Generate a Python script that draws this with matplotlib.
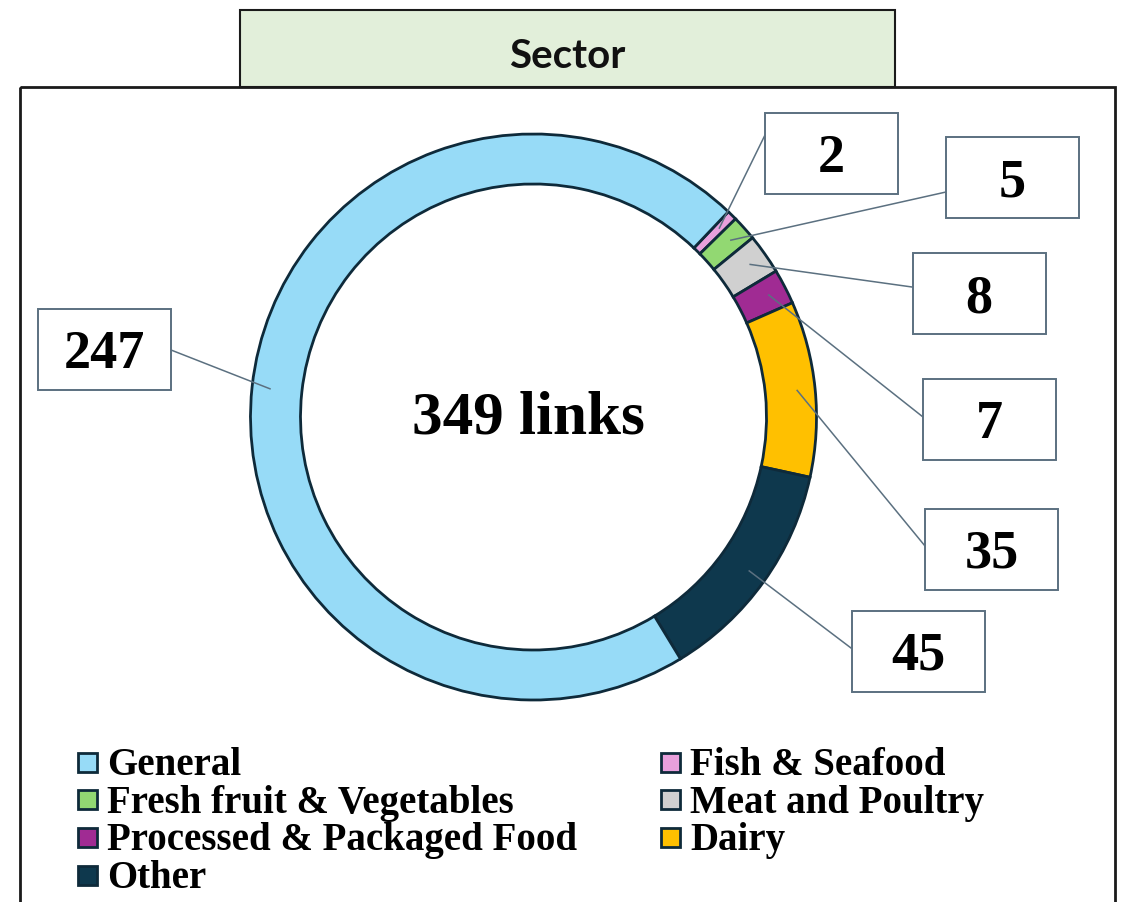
import matplotlib
matplotlib.use("Agg")
import matplotlib.pyplot as plt
from matplotlib.patches import Rectangle
import numpy as np

# ---- data ----
categories = ["Fish & Seafood", "Fresh fruit & Vegetables", "Meat and Poultry",
              "Processed & Packaged Food", "Dairy", "Other", "General"]
values = [2, 5, 8, 7, 35, 45, 247]
colors = ["#E8A0DC", "#92D872", "#D0D0D0", "#A02B93", "#FFC000", "#0E384D", "#97DBF7"]
legend_order = ["General", "Fish & Seafood", "Fresh fruit & Vegetables", "Meat and Poultry",
                "Processed & Packaged Food", "Dairy", "Other"]
title = "Sector"

# ---- layout (pixel coords, origin top-left) ----
W, H = 1125, 902
center = (533.5, 417)
R_OUT, RING_W = 283, 50
box_w, box_h = 133, 81
label_boxes = {  # box center, leader anchor on box
    "Fish & Seafood": ((831.5, 153), (765, 135)),
    "Fresh fruit & Vegetables": ((1012.5, 177.5), (946, 192)),
    "Meat and Poultry": ((979, 293.5), (912, 287)),
    "Processed & Packaged Food": ((989.5, 419.5), (923, 417)),
    "Dairy": ((991.5, 549), (925, 546)),
    "Other": ((918, 651), (851, 648)),
    "General": ((104.5, 349.5), (171, 350)),
}

serif = ["Liberation Serif", "DejaVu Serif"]
fig = plt.figure(figsize=(W / 100, H / 100), dpi=100)
ax = fig.add_axes([0, 0, 1, 1])

wedges, _ = ax.pie(values, colors=colors, startangle=-46.5, counterclock=True,
                   center=center, radius=R_OUT,
                   wedgeprops=dict(width=RING_W, edgecolor="#0E2A3A", linewidth=2))
ax.set_xlim(0, W)
ax.set_ylim(H, 0)
ax.set_aspect("equal")
ax.axis("off")

# outer frame and title box
ax.add_patch(Rectangle((20, 87), 1095, 900, fill=False, edgecolor="#1a1a1a", lw=2, zorder=1))
ax.add_patch(Rectangle((240, 10), 655, 77, facecolor="#E2EFDA", edgecolor="#1a1a1a", lw=1.5, zorder=2))
ax.text(567.5, 68, title, ha="center", va="baseline", fontsize=29, fontweight="bold",
        family=["Lato", "DejaVu Sans"], color="#111111", zorder=3)

# data labels with leader lines
r_lead = R_OUT - RING_W / 2 + 7
for w, cat, v in zip(wedges, categories, values):
    th = np.deg2rad((w.theta1 + w.theta2) / 2)
    px = center[0] + r_lead * np.cos(th)
    py = center[1] + r_lead * np.sin(th)
    (cx, cy), (ax0, ay0) = label_boxes[cat]
    ax.plot([ax0, px], [ay0, py], color="#5B7080", lw=1.1, zorder=4)
    ax.add_patch(Rectangle((cx - box_w / 2, cy - box_h / 2), box_w, box_h,
                           facecolor="white", edgecolor="#5B7080", lw=1.4, zorder=5))
    ax.text(cx, cy + 19, str(v), ha="center", va="baseline", fontsize=39,
            fontweight="bold", family=serif, zorder=6)

ax.text(528, 433, f"{sum(values)} links", ha="center", va="baseline", fontsize=44,
        fontweight="bold", family=serif, zorder=6)

# legend (row-major, 2 columns)
col_mark_x = [87, 670]
col_text_x = [107, 690]
row_base0, row_step = 775, 37.7
msz = 19
for i, name in enumerate(legend_order):
    r, c = divmod(i, 2)
    base = row_base0 + r * row_step
    col = colors[categories.index(name)]
    ax.add_patch(Rectangle((col_mark_x[c] - msz / 2, base - 13 - msz / 2), msz, msz,
                           facecolor=col, edgecolor="#0E2A3A", lw=2, zorder=5))
    ax.text(col_text_x[c], base, name, ha="left", va="baseline", fontsize=28,
            fontweight="bold", family=serif, zorder=6)

fig.savefig("out.png", dpi=100)
